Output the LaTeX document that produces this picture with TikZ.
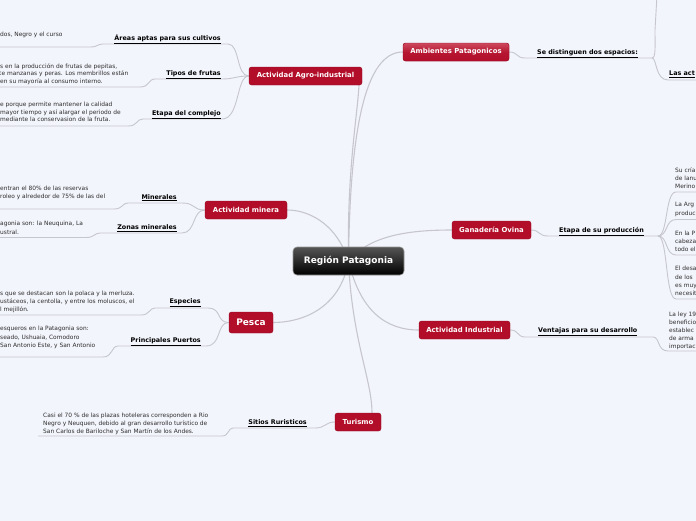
\documentclass[tikz,border=0pt]{standalone}
\usepackage{fontspec}
\setmainfont{DejaVu Sans}
\usetikzlibrary{backgrounds}
\definecolor{bgc}{RGB}{243,245,252}
\definecolor{linec}{RGB}{198,198,206}
\definecolor{redc}{RGB}{178,14,42}
\definecolor{redd}{RGB}{150,10,35}
\definecolor{redl}{RGB}{205,75,95}
\definecolor{leafc}{RGB}{45,45,45}
\tikzset{
 topic/.style={rounded corners=2.5pt, fill=redc, draw=redd, line width=0.4pt, text=white,
   font=\fontsize{6.9}{7}\selectfont\bfseries, inner sep=0pt, minimum height=18pt},
 sublabel/.style={font=\fontsize{6.4}{7}\selectfont\bfseries, text=black, inner sep=0pt},
 leaf/.style={font=\fontsize{5.9}{8}\selectfont, text=leafc, inner sep=0pt},
 conn/.style={draw=linec, line width=0.9pt},
 mainconn/.style={draw=linec, line width=1.1pt},
}
\begin{document}
\begin{tikzpicture}[x=1pt,y=-1pt]
\useasboundingbox (0,0) rectangle (696,520);
\clip (0,0) rectangle (696,520);

% main nodes
\node[rounded corners=4pt, top color={rgb,255:red,85;green,85;blue,85}, bottom color=black,
  draw={rgb,255:red,150;green,150;blue,150}, line width=0.6pt, minimum width=111pt, minimum height=28pt,
  inner sep=0pt, text=white, font=\fontsize{9}{10}\selectfont\bfseries] (root) at (348.5,261) {Región Patagonia};
\node[topic, minimum width=113pt] (agro) at (305.5,76) {Actividad Agro-industrial};
\node[topic, minimum width=106pt, top color=redl, bottom color=redc, middle color=redc!85!redl] (amb) at (456,52) {Ambientes Patagonicos};
\node[topic, minimum width=82pt] (minera) at (246,210) {Actividad minera};
\node[topic, minimum width=79pt] (gan) at (491.5,230) {Ganadería Ovina};
\node[topic, minimum width=44pt, minimum height=21pt, font=\fontsize{9}{10}\selectfont\bfseries] (pesca) at (251,322.5) {Pesca};
\node[topic, minimum width=91pt] (ind) at (464.5,330) {Actividad Industrial};
\node[topic, minimum width=46pt] (tur) at (358,422) {Turismo};

% sub labels
\node[sublabel, anchor=base east] (areas) at (221,40) {\underline{Áreas aptas para sus cultivos}};
\node[sublabel, anchor=base east] (tipos) at (221,75) {\underline{Tipos de frutas}};
\node[sublabel, anchor=base east] (etapa) at (221,115) {\underline{Etapa del complejo}};
\node[sublabel, anchor=base east] (minerales) at (177,199) {\underline{Minerales}};
\node[sublabel, anchor=base east] (zonas) at (177,229.5) {\underline{Zonas minerales}};
\node[sublabel, anchor=base east] (especies) at (201,303.5) {\underline{Especies}};
\node[sublabel, anchor=base east] (puertos) at (201,342.5) {\underline{Principales Puertos}};
\node[sublabel, anchor=base east] (sitios) at (307,424.5) {\underline{Sitios Ruristicos}};
\node[sublabel, anchor=base west] (espacios) at (537,54.5) {\underline{Se distinguen dos espacios:}};
\node[sublabel, anchor=base west] (lasact) at (669,75.5) {\underline{Las act}};
\node[sublabel, anchor=base west] (etprod) at (559,232.5) {\underline{Etapa de su producción}};
\node[sublabel, anchor=base west] (ventajas) at (538,332.5) {\underline{Ventajas para su desarrollo}};

% leaves left
\node[leaf, anchor=base west] (a1) at (0,36) {dos, Negro y el curso};
\node[leaf, anchor=base west] (t1) at (0,68) {s en la producción de frutas de pepitas,};
\node[leaf, anchor=base west] (t2) at (-1,75.5) {te manzanas y peras. Los membrillos están};
\node[leaf, anchor=base west] (t3) at (0,83) {en su mayoría al consumo interno.};
\node[leaf, anchor=base west] (e1) at (0,106) {e porque permite mantener la calidad};
\node[leaf, anchor=base west] (e2) at (0,114) {mayor tiempo y así alargar el periodo de};
\node[leaf, anchor=base west] (e3) at (0,121.5) {mediante la conservasion de la fruta.};
\node[leaf, anchor=base west] (m1) at (0,190.5) {entran el 80\% de las reservas};
\node[leaf, anchor=base west] (m2) at (0,198.5) {roleo y alrededor de 75\% de las del};
\node[leaf, anchor=base west] (z1) at (0,225.5) {agonia son: la Neuquina, La};
\node[leaf, anchor=base west] (z2) at (0,234) {ustral.};
\node[leaf, anchor=base west] (s1) at (0,295.5) {s que se destacan son la polaca y la merluza.};
\node[leaf, anchor=base west] (s2) at (0,303.5) {ustáceos, la centolla, y entre los moluscos, el};
\node[leaf, anchor=base west] (s3) at (0,311.5) {l mejillón.};
\node[leaf, anchor=base west] (p1) at (0,330.5) {esqueros en la Patagonia son:};
\node[leaf, anchor=base west] (p2) at (0,339) {seado, Ushuaia, Comodoro};
\node[leaf, anchor=base west] (p3) at (0,347) {San Antonio Este, y San Antonio};
\node[leaf, anchor=base west] (c1) at (43,417) {Casi el 70 \% de las plazas hoteleras corresponden a Rio};
\node[leaf, anchor=base west] (c2) at (43,425) {Negro y Neuquen, debido al gran desarrollo turístico de};
\node[leaf, anchor=base west] (c3) at (43,433) {San Carlos de Bariloche y San Martín de los Andes.};

% leaves right
\node[leaf, anchor=base west] (g1) at (675,172) {Su cría};
\node[leaf, anchor=base west] (g2) at (675,180) {de lanu};
\node[leaf, anchor=base west] (g3) at (675,188) {Merino};
\node[leaf, anchor=base west] (g4) at (675,206.5) {La Arg};
\node[leaf, anchor=base west] (g5) at (675,215) {produc};
\node[leaf, anchor=base west] (g6) at (675,235) {En la P};
\node[leaf, anchor=base west] (g7) at (675,243) {cabeza};
\node[leaf, anchor=base west] (g8) at (675,251) {todo el};
\node[leaf, anchor=base west] (g9) at (675,270.5) {El desa};
\node[leaf, anchor=base west] (g10) at (675,279) {de los};
\node[leaf, anchor=base west] (g11) at (675,287) {es muy};
\node[leaf, anchor=base west] (g12) at (675,295) {necesit};
\node[leaf, anchor=base west] (v1) at (669,316) {La ley 19};
\node[leaf, anchor=base west] (v2) at (669,324) {beneficio};
\node[leaf, anchor=base west] (v3) at (669,332) {establec};
\node[leaf, anchor=base west] (v4) at (669,340) {de arma};
\node[leaf, anchor=base west] (v5) at (669,348) {importac};

\begin{pgfonlayer}{background}
\fill[bgc] (-5,-5) rectangle (701,525);
% main connectors
\draw[mainconn] (root.center) .. controls (347,170) and (357,120) .. (359,85);
\draw[mainconn] (root.center) .. controls (350,130) and (365,52) .. (amb.west);
\draw[mainconn] (root.center) .. controls (335,220) and (305,210) .. (minera.east);
\draw[mainconn] (root.center) .. controls (370,235) and (410,230) .. (gan.west);
\draw[mainconn] (root.center) .. controls (340,310) and (300,322.5) .. (pesca.east);
\draw[mainconn] (root.center) .. controls (360,310) and (385,330) .. (ind.west);
\draw[mainconn] (root.center) .. controls (352,340) and (372,380) .. (372,413);
% agro
\draw[conn] (agro.west) .. controls (236,76) and (240,44) .. (228,44) -- (103,44)
  .. controls (97,44) and (98,47) .. (90,47) -- (-5,47);
\draw[conn] (agro.west) .. controls (236,76) and (234,79) .. (222,79) -- (155,79)
  .. controls (148,79) and (150,87) .. (140,87) -- (-5,87);
\draw[conn] (agro.west) .. controls (236,76) and (240,119) .. (222,119) -- (143,119)
  .. controls (136,119) and (138,126) .. (128,126) -- (-5,126);
% minera
\draw[conn] (minera.west) .. controls (192,210) and (196,203) .. (182,203) -- (128,203)
  .. controls (122,203) and (123,209) .. (114,209) -- (-5,209);
\draw[conn] (minera.west) .. controls (192,210) and (196,233) .. (182,233) -- (100,233)
  .. controls (94,233) and (95,237.5) .. (86,237.5) -- (-5,237.5);
% pesca
\draw[conn] (pesca.west) .. controls (216,322.5) and (222,308) .. (208,308) -- (155,308)
  .. controls (149,308) and (150,315) .. (141,315) -- (-5,315);
\draw[conn] (pesca.west) .. controls (216,322.5) and (222,346) .. (206,346) -- (118,346)
  .. controls (111,346) and (113,357) .. (103,357) -- (-5,357);
% turismo
\draw[conn] (tur.west) .. controls (325,422) and (326,428) .. (315,428) -- (233,428)
  .. controls (228,428) and (229,436) .. (222,436) -- (38,436);
% ambientes
\draw[conn] (amb.east) .. controls (518,52) and (516,58) .. (525,58) -- (652,58);
\draw[conn] (652,58) .. controls (656,58) and (655,45) .. (655,30) -- (657,-5);
\draw[conn] (652,58) .. controls (657,58) and (655,80) .. (668,80) -- (700,80);
% ganaderia
\draw[conn] (gan.east) .. controls (540,230) and (538,236) .. (548,236) -- (658,236);
\foreach \yy in {192,219.5,255,299}{
  \draw[conn] (658,236) .. controls (668,236) and (665,\yy) .. (676,\yy) -- (700,\yy);
}
% industrial
\draw[conn] (ind.east) .. controls (519,330) and (517,337) .. (525,337) -- (653,337)
  .. controls (660,337) and (657,351) .. (668,351) -- (700,351);
\end{pgfonlayer}
\end{tikzpicture}
\end{document}
